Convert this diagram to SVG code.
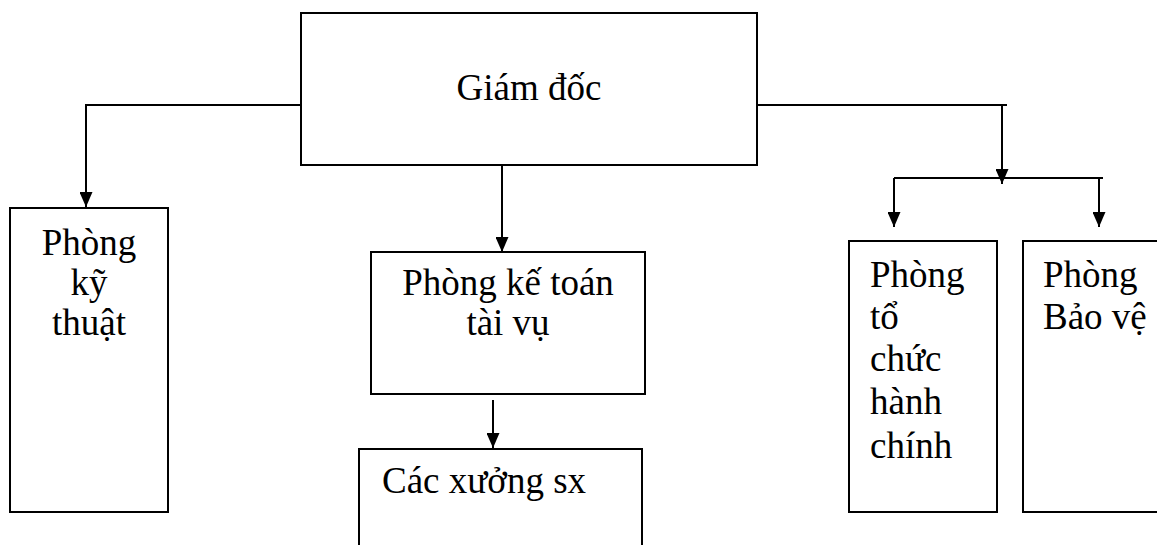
<svg xmlns="http://www.w3.org/2000/svg" width="1157" height="545" viewBox="0 0 1157 545">
  <defs>
    <marker id="arrow" markerUnits="userSpaceOnUse" markerWidth="15" markerHeight="13" refX="15" refY="6.5" orient="auto">
      <path d="M0,0 L15,6.5 L0,13 z" fill="#000"/>
    </marker>
  </defs>
  <style>
    .box { fill: #fff; stroke: #000; stroke-width: 2; }
    .line { fill: none; stroke: #000; stroke-width: 2; }
    .arr { fill: none; stroke: #000; stroke-width: 2; marker-end: url(#arrow); }
    text { font-family: "Liberation Serif", "Times New Roman", serif; font-size: 37px; fill: #000; }
    .c { text-anchor: middle; }
  </style>
  <rect width="1157" height="545" fill="#fff"/>

  <g id="connectors">
    <!-- director to technical -->
    <polyline class="line" points="305,105 86,105 86,190"/>
    <line class="arr" x1="86" y1="185" x2="86" y2="207"/>
    <!-- director to accounting -->
    <line class="arr" x1="502" y1="160" x2="502" y2="252"/>
    <!-- accounting to workshops -->
    <line class="arr" x1="493" y1="400" x2="493" y2="448"/>
    <!-- director to admin / security -->
    <polyline class="line" points="757,105 1007,105"/>
    <line class="arr" x1="1002" y1="105" x2="1002" y2="184"/>
    <polyline class="line" points="894,178 1103,178"/>
    <line class="arr" x1="894" y1="178" x2="894" y2="227"/>
    <line class="arr" x1="1099" y1="178" x2="1099" y2="227"/>
  </g>

  <g id="giam-doc">
    <rect class="box" x="301" y="13" width="456" height="152"/>
    <text class="c" x="529" y="100">Giám đốc</text>
  </g>

  <g id="phong-ky-thuat">
    <rect class="box" x="10" y="208" width="158" height="304"/>
    <text class="c" x="89" y="255">Phòng</text>
    <text class="c" x="89" y="295">kỹ</text>
    <text class="c" x="89" y="335">thuật</text>
  </g>

  <g id="phong-ke-toan">
    <rect class="box" x="371" y="252" width="274" height="142"/>
    <text class="c" x="508" y="295">Phòng kế toán</text>
    <text class="c" x="508" y="335">tài vụ</text>
  </g>

  <g id="cac-xuong-sx">
    <rect class="box" x="359" y="449" width="283" height="110"/>
    <text x="382" y="493">Các xưởng sx</text>
  </g>

  <g id="phong-to-chuc">
    <rect class="box" x="849" y="241" width="148" height="271"/>
    <text x="870" y="287">Phòng</text>
    <text x="870" y="329">tổ</text>
    <text x="870" y="371">chức</text>
    <text x="870" y="414">hành</text>
    <text x="870" y="458">chính</text>
  </g>

  <g id="phong-bao-ve">
    <rect class="box" x="1023" y="241" width="160" height="271"/>
    <text x="1043" y="287">Phòng</text>
    <text x="1043" y="329">Bảo vệ</text>
  </g>
</svg>
